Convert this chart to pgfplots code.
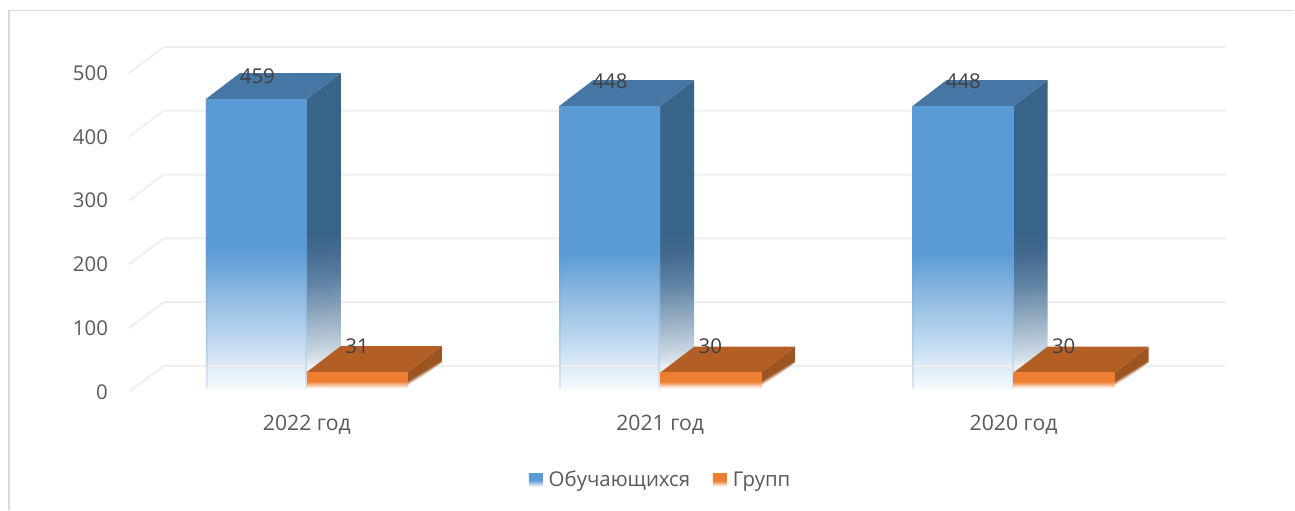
\documentclass[border=0pt]{standalone}
\usepackage{fontspec}
\setmainfont{Open Sans}
\usepackage{pgfplots}
\pgfplotsset{compat=1.18}

\definecolor{gridgray}{HTML}{EFEFEF}
\definecolor{framegray}{HTML}{D9D9D9}
\definecolor{ticktext}{HTML}{595959}
\definecolor{labeltext}{HTML}{404040}
\definecolor{bluefront}{HTML}{5B9BD5}
\definecolor{blueedge}{HTML}{DCE9F6}
\definecolor{blueside}{HTML}{39648A}
\definecolor{bluesidea}{HTML}{41698D}
\definecolor{bluesideb}{HTML}{5E82A3}
\definecolor{bluesidec}{HTML}{8FA8BE}
\definecolor{bluesided}{HTML}{C5D3DF}
\definecolor{bluesidee}{HTML}{E8EEF3}
\definecolor{bluetop}{HTML}{4676A3}
\definecolor{orangefront}{HTML}{ED7D31}
\definecolor{orangeside}{HTML}{9C5520}
\definecolor{orangetop}{HTML}{B35E25}
\definecolor{fadeblue}{HTML}{F6FAFD}

% 25bp is the bottom of the face, 75bp the top
\pgfdeclareverticalshading{bluefrontfade}{100bp}{color(0bp)=(fadeblue); color(25bp)=(fadeblue); color(49bp)=(bluefront); color(100bp)=(bluefront)}
\pgfdeclareverticalshading{blueedgefade}{100bp}{color(0bp)=(blueedge); color(25bp)=(blueedge); color(49bp)=(bluefront); color(100bp)=(bluefront)}
\pgfdeclareverticalshading{bluesidefade}{100bp}{color(0bp)=(bluesidee); color(27bp)=(bluesidee); color(30bp)=(bluesided); color(36bp)=(bluesidec); color(41.5bp)=(bluesideb); color(47bp)=(bluesidea); color(50bp)=(blueside); color(100bp)=(blueside)}
\pgfdeclareverticalshading{orangefrontfade}{100bp}{color(0bp)=(white); color(25bp)=(white); color(47bp)=(orangefront); color(100bp)=(orangefront)}
\pgfdeclareverticalshading{orangesidefade}{100bp}{color(0bp)=(white); color(42bp)=(white); color(47bp)=(orangeside); color(100bp)=(orangeside)}

% x0, x1, base, value, front shading, side shading, side angle, top colour
\newcommand{\boxbar}[8]{%
  \pgfmathsetmacro\xa{#1+0.0962}
  \pgfmathsetmacro\xb{#2+0.0962}
  \pgfmathsetmacro\va{#4+40.75}
  \pgfmathsetmacro\ba{#3+40.75}
  \addplot[forget plot,draw=none,shading=#6,shading angle=#7] coordinates {(#2,#3) (\xb,\ba) (\xb,\va) (#2,#4) (#2,#3)};
  \addplot[forget plot,draw=none,fill=#8] coordinates {(#1,#4) (#2,#4) (\xb,\va) (\xa,\va) (#1,#4)};
  \addplot[forget plot,draw=none,shading=#5] coordinates {(#1,#3) (#2,#3) (#2,#4) (#1,#4) (#1,#3)};
}
% thin bluer strips down both edges of a blue front face
\newcommand{\edgestrips}[3]{%
  \pgfmathsetmacro\xc{#1+0.0042}
  \pgfmathsetmacro\xd{#2-0.0042}
  \addplot[forget plot,draw=none,shading=blueedgefade] coordinates {(#1,5.5) (\xc,5.5) (\xc,#3) (#1,#3) (#1,5.5)};
  \addplot[forget plot,draw=none,shading=blueedgefade] coordinates {(\xd,5.5) (#2,5.5) (#2,#3) (\xd,#3) (\xd,5.5)};
}
% back wall line at a value, with the diagonal to the front
\newcommand{\gridrow}[2]{%
  \addplot[forget plot,gridgray,line width=1.5pt] coordinates {(-0.5035,#1) (-0.4045,#2) (2.5997,#2)};
}
\newcommand{\labelfont}{\fontsize{15.3}{18}\selectfont}

\begin{document}
\begin{tikzpicture}
\begin{axis}[
  scale only axis,width=971.25pt,height=382.5pt,
  xmin=-0.86846,xmax=2.79491,ymin=-184.95,ymax=614.42,
  clip=false,no markers,
  axis line style={draw=none},tick style={draw=none},
  xtick={0,1,2},xticklabels={2022 год,2021 год,2020 год},
  ytick={0,100,200,300,400,500},
  /pgf/number format/assume math mode=true,
  xticklabel style={font=\fontsize{15.9}{18}\selectfont,text=ticktext,yshift=74.5pt},
  yticklabel style={font=\labelfont,text=ticktext,xshift=84.5pt},
  legend style={at={(axis cs:1.002,-138)},anchor=center,draw=none,fill=none,
    font=\fontsize{15.3}{18}\selectfont,text=ticktext,legend columns=2,
    /tikz/every even column/.append style={column sep=15pt}},
  legend cell align=left,
]
\addplot[forget plot,framegray,line width=1.5pt] coordinates {(-0.8430,-184.95) (-0.8430,598)};
\addplot[forget plot,framegray,line width=0.9pt] coordinates {(-0.8458,598) (2.79491,598)};

\gridrow{0}{40.75}
\gridrow{100}{140.75}
\gridrow{200}{240.75}
\gridrow{300}{340.75}
\gridrow{400}{440.75}
\gridrow{500}{540.75}

\boxbar{-0.286}{0}{5.5}{459}{bluefrontfade}{bluesidefade}{4.7}{bluetop}
\boxbar{0.714}{1}{5.5}{448}{bluefrontfade}{bluesidefade}{4.7}{bluetop}
\boxbar{1.714}{2}{5.5}{448}{bluefrontfade}{bluesidefade}{4.7}{bluetop}

% zero line shows through the faded faces
\addplot[forget plot,gridgray,line width=1pt] coordinates {(-0.4045,40.75) (2.5997,40.75)};

\edgestrips{-0.286}{0}{459}
\edgestrips{0.714}{1}{448}
\edgestrips{1.714}{2}{448}

\boxbar{0}{0.286}{5.5}{31}{orangefrontfade}{orangesidefade}{31.8}{orangetop}
\boxbar{1}{1.286}{5.5}{30}{orangefrontfade}{orangesidefade}{31.8}{orangetop}
\boxbar{2}{2.286}{5.5}{30}{orangefrontfade}{orangesidefade}{31.8}{orangetop}

\node[text=labeltext,font=\labelfont] at (axis cs:-0.140,495) {459};
\node[text=labeltext,font=\labelfont] at (axis cs:0.858,487) {448};
\node[text=labeltext,font=\labelfont] at (axis cs:1.858,487) {448};
\node[text=labeltext,font=\labelfont] at (axis cs:0.142,72) {31};
\node[text=labeltext,font=\labelfont] at (axis cs:1.142,71) {30};
\node[text=labeltext,font=\labelfont] at (axis cs:2.142,71) {30};

\addlegendimage{legend image code/.code={\path[draw=none,shading=bluefrontfade] (0pt,-5pt) rectangle (10.5pt,5pt); \path[draw=none] (0pt,0pt) -- (13pt,0pt);}}
\addlegendentry{Обучающихся}
\addlegendimage{legend image code/.code={\path[draw=none,shading=orangefrontfade] (0pt,-5pt) rectangle (10.5pt,5pt); \path[draw=none] (0pt,0pt) -- (13pt,0pt);}}
\addlegendentry{Групп}
\end{axis}
\end{tikzpicture}
\end{document}
